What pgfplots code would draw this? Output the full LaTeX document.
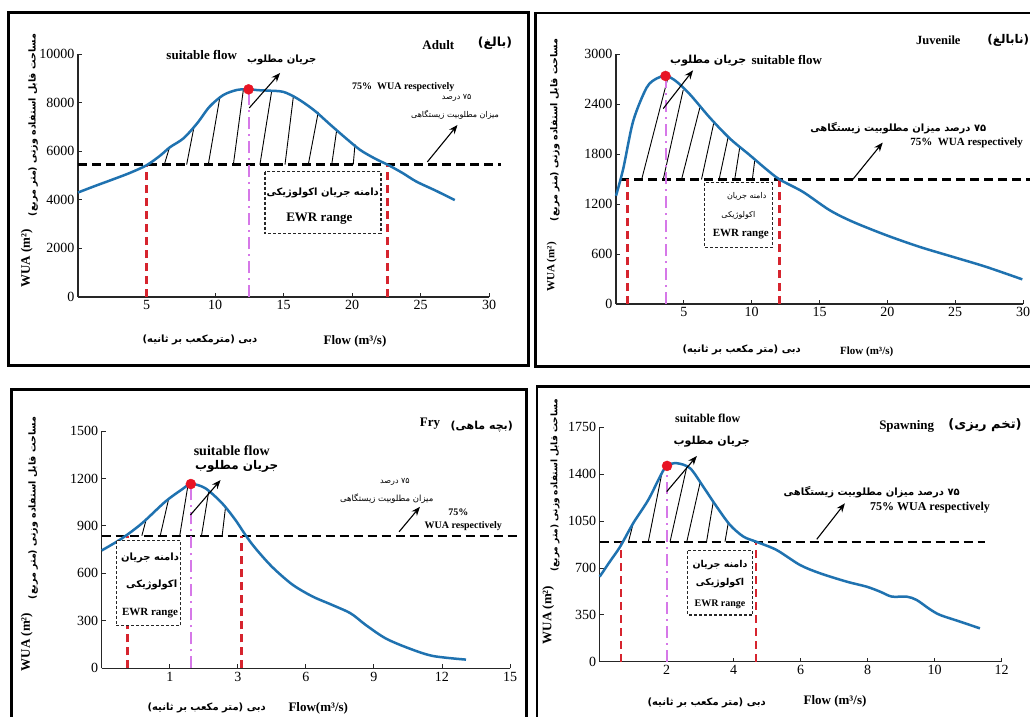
\documentclass[border=0pt]{standalone}
\usepackage{fontspec}
\usepackage{pgfplots}
\pgfplotsset{compat=1.18}
\usetikzlibrary{arrows.meta}
\setmainfont{Liberation Serif}
\newfontfamily\fa[Script=Arabic]{DejaVu Sans}
\TeXXeTstate=1
\newcommand{\fs}[1]{\fontsize{#1}{#1}\selectfont}
\newcommand{\FA}[1]{{\fa\beginR #1\endR}}
\newcommand{\FAB}[1]{{\fa\bfseries\beginR #1\endR}}
\definecolor{cblue}{RGB}{31,114,176}
\definecolor{cred}{RGB}{214,36,46}
\definecolor{cmag}{RGB}{214,120,232}
\definecolor{cdot}{RGB}{232,20,36}
\pgfplotsset{
  panel/.style={
    scale only axis, clip=false, axis lines=left,
    axis line style={-, line width=1.1pt, black!85},
    tick align=inside, major tick length=4pt,
    tick style={line width=0.9pt, black!85},
    ymin=0, scaled y ticks=false, scaled x ticks=false,
    ticklabel style={font=\fs{14}},
    /pgf/number format/assume math mode=true,
    /pgf/number format/1000 sep={},
    anchor=south west,
  },
  wua/.style={cblue, line width=2.5pt, smooth, no marks},
  thr/.style={black, line width=2.4pt, dash pattern=on 9pt off 5pt, no marks},
  ewr/.style={cred, line width=2.4pt, dash pattern=on 8pt off 5pt, no marks},
  opt/.style={cmag, line width=2pt, dash pattern=on 12pt off 5pt on 2pt off 5pt, no marks},
  hat/.style={black, line width=0.9pt, no marks},
  pk/.style={only marks, mark=*, mark size=5pt, mark options={draw=cdot, fill=cdot}},
}
\tikzset{
  ann/.style={-{Stealth[length=9pt,width=7pt]}, line width=1.1pt, black},
  bx/.style={black!85, line width=1.1pt, dash pattern=on 3pt off 2pt, fill=white},
  t/.style={inner sep=0pt},
}
\begin{document}
\begin{tikzpicture}
\path[use as bounding box] (0pt,0pt) rectangle (1030pt,-716pt);
\clip (0pt,0pt) rectangle (1030pt,-716pt);
\fill[white] (0pt,0pt) rectangle (1030pt,-716pt);
% frames
\draw[line width=2.8pt] (8.5pt,-12.5pt) rectangle (528.5pt,-365.5pt);
\draw[line width=2.8pt] (535.5pt,-13pt) rectangle (1040pt,-366.5pt);
\draw[line width=2.8pt] (11.5pt,-389.5pt) rectangle (526.5pt,-730pt);
\draw[line width=2.8pt] (537pt,-386.5pt) rectangle (1040pt,-730pt);

% ===== Adult =====
\begin{axis}[panel, at={(78pt,-297pt)}, width=411pt, height=243pt,
  xmin=0, xmax=30, ymax=10000, xtick={5,10,...,30}, ytick={0,2000,...,10000}]
\addplot[thr] coordinates {(0,5450) (30.9,5450)};
\addplot[hat] coordinates {(6.30,5450) (6.66,6119)};
\addplot[hat] coordinates {(7.93,5450) (8.47,7008)};
\addplot[hat] coordinates {(9.51,5450) (10.36,8242)};
\addplot[hat] coordinates {(11.34,5450) (12.07,8530)};
\addplot[hat] coordinates {(13.28,5450) (14.14,8485)};
\addplot[hat] coordinates {(15.11,5450) (15.72,8250)};
\addplot[hat] coordinates {(16.81,5450) (17.54,7620)};
\addplot[hat] coordinates {(18.52,5450) (18.88,6860)};
\addplot[hat] coordinates {(20.09,5450) (20.22,6290)};
\addplot[ewr] coordinates {(5.0,0) (5.0,5450)};
\addplot[ewr] coordinates {(22.6,0) (22.6,5450)};
\addplot[opt] coordinates {(12.45,0) (12.45,8546)};
\addplot[wua] coordinates {(0,4300) (1.2,4560) (2.5,4830) (3.8,5110) (5,5420) (6,5820) (6.7,6160) (7.7,6530) (8.7,7150) (9.6,7830) (10.6,8310) (11.6,8520) (12.45,8546) (13.2,8510) (14,8490) (15,8440) (16,8170) (17.2,7700) (18.4,7100) (19.5,6560) (20.6,6050) (21.7,5690) (22.65,5430) (23.7,5100) (24.7,4750) (26.1,4380) (27.5,3990)};
\addplot[pk] coordinates {(12.45,8546)};
\draw[ann] (axis cs:12.5,7780) -- (axis cs:14.75,9220);
\draw[ann] (axis cs:25.5,5560) -- (axis cs:27.7,7080);
\draw[bx] (axis cs:13.65,5156) rectangle (axis cs:22.12,2621);
\end{axis}

% ===== Juvenile =====
\begin{axis}[panel, at={(616pt,-304pt)}, width=407pt, height=249.7pt,
  xmin=0, xmax=30, ymax=3000, xtick={5,10,...,30}, ytick={0,600,...,3000}]
\addplot[thr] coordinates {(0.3,1496) (30.6,1496)};
\addplot[hat] coordinates {(1.89,1496) (3.85,2735)};
\addplot[hat] coordinates {(3.48,1496) (4.95,2570)};
\addplot[hat] coordinates {(4.83,1496) (6.18,2360)};
\addplot[hat] coordinates {(6.30,1496) (7.20,2170)};
\addplot[hat] coordinates {(7.60,1496) (8.26,2000)};
\addplot[hat] coordinates {(8.75,1496) (9.12,1880)};
\addplot[hat] coordinates {(10.05,1496) (10.22,1720)};
\addplot[ewr] coordinates {(0.86,0) (0.86,1496)};
\addplot[ewr] coordinates {(12.06,0) (12.06,1496)};
\addplot[opt] coordinates {(3.65,0) (3.65,2740)};
\addplot[wua] coordinates {(0,1300) (0.54,1630) (1.27,2200) (2.26,2600) (3.0,2710) (3.68,2740) (4.4,2680) (5.44,2520) (6.91,2240) (8.38,1990) (9.85,1790) (11.0,1630) (12.06,1496) (13.77,1348) (15.74,1128) (17.45,988) (19.9,828) (22.35,688) (24.8,568) (27.25,448) (29.95,296)};
\addplot[pk] coordinates {(3.65,2740)};
\draw[ann] (axis cs:3.48,2348) -- (axis cs:5.68,2808);
\draw[ann] (axis cs:17.45,1496) -- (axis cs:19.66,1940);
\draw[bx] (axis cs:6.54,1456) rectangle (axis cs:11.52,680);
\end{axis}

% ===== Fry =====
\begin{axis}[panel, at={(101.7pt,-668.3pt)}, width=408.3pt, height=237.3pt,
  xmin=-3, xmax=15, ymax=1500, xtick={0,3,...,15}, xticklabels={1,3,6,9,12,15}, ytick={0,300,...,1500}]
\addplot[thr] coordinates {(-3,838) (15.4,838)};
\addplot[hat] coordinates {(-1.23,838) (-1.05,935)};
\addplot[hat] coordinates {(-0.42,838) (-0.05,1070)};
\addplot[hat] coordinates {(0.44,838) (0.80,1155)};
\addplot[hat] coordinates {(1.40,838) (1.72,1120)};
\addplot[hat] coordinates {(2.31,838) (2.46,1020)};
\addplot[ewr] coordinates {(-1.87,0) (-1.87,838)};
\addplot[ewr] coordinates {(3.17,0) (3.17,838)};
\addplot[opt] coordinates {(0.93,0) (0.93,1165)};
\addplot[wua] coordinates {(-3,745) (-2.11,821) (-1.23,916) (-0.2,1053) (0.54,1131) (0.95,1165) (1.57,1138) (2.31,1043) (2.9,937) (3.34,842) (3.78,758) (4.52,640) (5.4,530) (6.28,455) (7.17,400) (7.98,347) (8.64,274) (9.52,189) (10.55,126) (11.6,78) (13.06,55)};
\addplot[pk] coordinates {(0.93,1165)};
\draw[ann] (axis cs:0.91,969) -- (axis cs:2.24,1190);
\draw[ann] (axis cs:10.11,863) -- (axis cs:11.03,1021);
\draw[bx] (axis cs:-2.36,806) rectangle (axis cs:0.49,269);
\end{axis}

% ===== Spawning =====
\begin{axis}[panel, at={(599.7pt,-661.7pt)}, width=402pt, height=234.4pt,
  xmin=0, xmax=12, ymax=1750, xtick={2,4,...,12}, ytick={0,350,...,1750}]
\addplot[thr] coordinates {(0,896) (11.5,896)};
\addplot[hat] coordinates {(0.86,896) (1.0,1034)};
\addplot[hat] coordinates {(1.45,896) (1.85,1400)};
\addplot[hat] coordinates {(2.10,896) (2.60,1455)};
\addplot[hat] coordinates {(2.60,896) (3.00,1340)};
\addplot[hat] coordinates {(3.19,896) (3.39,1195)};
\addplot[hat] coordinates {(3.74,896) (3.84,1040)};
\addplot[ewr] coordinates {(0.63,0) (0.63,896)};
\addplot[ewr] coordinates {(4.67,0) (4.67,896)};
\addplot[opt] coordinates {(2.01,0) (2.01,1462)};
\addplot[wua] coordinates {(0,635) (0.31,750) (0.61,859) (1.0,1034) (1.45,1208) (1.8,1382) (2.0,1462) (2.3,1482) (2.7,1444) (3.09,1307) (3.49,1158) (3.89,1021) (4.29,934) (4.67,896) (5.28,834) (5.98,722) (6.58,660) (7.37,598) (7.97,560) (8.37,523) (8.72,486) (9.16,486) (9.46,461) (9.86,391) (10.16,349) (10.76,299) (11.35,249)};
\addplot[pk] coordinates {(2.01,1462)};
\draw[ann] (axis cs:2.0,1270) -- (axis cs:2.9,1536);
\draw[ann] (axis cs:6.48,914) -- (axis cs:7.32,1183);
\draw[bx] (axis cs:2.63,827) rectangle (axis cs:4.57,349);
\end{axis}

% ===== texts: Adult =====
\node[t,font=\bfseries\fs{13}] at (201.7pt,-55pt) {suitable flow};
\node[t,font=\fs{10}] at (281.7pt,-60pt) {\FAB{جریان مطلوب}};
\node[t,font=\bfseries\fs{13}] at (438.3pt,-45pt) {Adult};
\node[t,font=\fs{12.5}] at (495pt,-43pt) {\FAB{(بالغ)}};
\node[t,font=\bfseries\fs{10}] at (403.3pt,-87.3pt) {75\%\ \ WUA respectively};
\node[t,font=\fs{8}] at (456.7pt,-98.3pt) {\FA{۷۵ درصد}};
\node[t,font=\fs{8}] at (455pt,-115pt) {\FA{میزان مطلوبیت زیستگاهی}};
\node[t,font=\fs{10}] at (322.7pt,-193.3pt) {\FAB{دامنه جریان اکولوژیکی}};
\node[t,font=\bfseries\fs{13}] at (319.3pt,-219pt) {EWR range};
\node[t,font=\bfseries\fs{13},rotate=90] at (26.7pt,-258.3pt) {WUA (m²)};
\node[t,font=\fs{9.5},rotate=90] at (33.3pt,-125pt) {\FAB{مساحت قابل استفاده وزنی (متر مربع)}};
\node[t,font=\fs{10}] at (200pt,-340pt) {\FAB{دبی (مترمکعب بر ثانیه)}};
\node[t,font=\bfseries\fs{13}] at (355pt,-341.7pt) {Flow (m³/s)};

% ===== texts: Juvenile =====
\node[t,font=\bfseries\fs{13}] at (786.7pt,-60pt) {suitable flow};
\node[t,font=\fs{11}] at (708.3pt,-60.7pt) {\FAB{جریان مطلوب}};
\node[t,font=\bfseries\fs{12.5}] at (938.3pt,-40pt) {Juvenile};
\node[t,font=\fs{12}] at (1008.3pt,-40.7pt) {\FAB{(نابالغ)}};
\node[t,font=\fs{10}] at (898.3pt,-128.3pt) {\FAB{۷۵ درصد میزان مطلوبیت زیستگاهی}};
\node[t,font=\bfseries\fs{11}] at (966.7pt,-142.7pt) {75\%\ \ WUA respectively};
\node[t,font=\fs{8}] at (746.7pt,-196.7pt) {\FA{دامنه جریان}};
\node[t,font=\fs{8}] at (738.3pt,-215pt) {\FA{اکولوژیکی}};
\node[t,font=\bfseries\fs{11}] at (740.7pt,-234pt) {EWR range};
\node[t,font=\bfseries\fs{11},rotate=90] at (551.7pt,-267pt) {WUA (m²)};
\node[t,font=\fs{9.5},rotate=90] at (555pt,-130pt) {\FAB{مساحت قابل استفاده وزنی (متر مربع)}};
\node[t,font=\fs{10}] at (741.7pt,-350pt) {\FAB{دبی (متر مکعب بر ثانیه)}};
\node[t,font=\bfseries\fs{11}] at (866.7pt,-351.7pt) {Flow (m³/s)};

% ===== texts: Fry =====
\node[t,font=\bfseries\fs{14}] at (231.7pt,-450.7pt) {suitable flow};
\node[t,font=\fs{12}] at (236.7pt,-466.7pt) {\FAB{جریان مطلوب}};
\node[t,font=\bfseries\fs{13}] at (430pt,-423.3pt) {Fry};
\node[t,font=\fs{11}] at (481.7pt,-426.7pt) {\FAB{(بچه ماهی)}};
\node[t,font=\fs{8}] at (395pt,-481.7pt) {\FA{۷۵ درصد}};
\node[t,font=\fs{8.5}] at (386.7pt,-498.3pt) {\FA{میزان مطلوبیت زیستگاهی}};
\node[t,font=\bfseries\fs{10}] at (458.3pt,-512.7pt) {75\%};
\node[t,font=\bfseries\fs{10}] at (463.3pt,-526pt) {WUA respectively};
\node[t,font=\fs{10}] at (150pt,-558.3pt) {\FAB{دامنه جریان}};
\node[t,font=\fs{10}] at (151.7pt,-585pt) {\FAB{اکولوژیکی}};
\node[t,font=\bfseries\fs{11}] at (150pt,-612.7pt) {EWR range};
\node[t,font=\bfseries\fs{13},rotate=90] at (26.7pt,-642pt) {WUA (m²)};
\node[t,font=\fs{9.5},rotate=90] at (33.3pt,-508pt) {\FAB{مساحت قابل استفاده وزنی (متر مربع)}};
\node[t,font=\fs{10}] at (206.7pt,-708.3pt) {\FAB{دبی (متر مکعب بر ثانیه)}};
\node[t,font=\bfseries\fs{13}] at (318.3pt,-708.3pt) {Flow(m³/s)};

% ===== texts: Spawning =====
\node[t,font=\bfseries\fs{12}] at (707.7pt,-418.3pt) {suitable flow};
\node[t,font=\fs{11}] at (711.7pt,-441.7pt) {\FAB{جریان مطلوب}};
\node[t,font=\bfseries\fs{13}] at (906.7pt,-426.7pt) {Spawning};
\node[t,font=\fs{13}] at (985pt,-425pt) {\FAB{(تخم ریزی)}};
\node[t,font=\fs{10}] at (871.7pt,-491.7pt) {\FAB{۷۵ درصد میزان مطلوبیت زیستگاهی}};
\node[t,font=\bfseries\fs{12}] at (930pt,-507.3pt) {75\% WUA respectively};
\node[t,font=\fs{9.5}] at (720pt,-565pt) {\FAB{دامنه جریان}};
\node[t,font=\fs{9.5}] at (720pt,-583.3pt) {\FAB{اکولوژیکی}};
\node[t,font=\bfseries\fs{10}] at (720pt,-604.3pt) {EWR range};
\node[t,font=\bfseries\fs{13},rotate=90] at (548.3pt,-615pt) {WUA (m²)};
\node[t,font=\fs{9},rotate=90] at (555pt,-485pt) {\FAB{مساحت قابل استفاده وزنی (متر مربع)}};
\node[t,font=\fs{10}] at (706.7pt,-703.3pt) {\FAB{دبی (متر مکعب بر ثانیه)}};
\node[t,font=\bfseries\fs{13}] at (835pt,-701.7pt) {Flow (m³/s)};
\end{tikzpicture}
\end{document}
